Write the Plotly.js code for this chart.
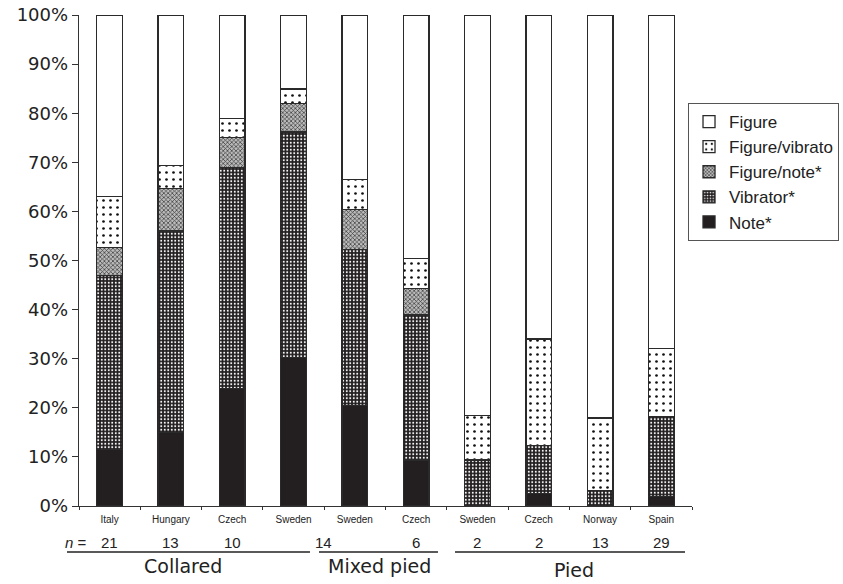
<!DOCTYPE html>
<html>
<head>
<meta charset="utf-8">
<script src="https://cdn.plot.ly/plotly-3.0.1.min.js"></script>
<style>html,body{margin:0;padding:0;background:#fff;}#chart{width:843px;height:584px;}</style>
</head>
<body>
<div id="chart"></div>
<script>
const catKeys = ["c0","c1","c2","c3","c4","c5","c6","c7","c8","c9"];
const catLabels = ["Italy","Hungary","Czech","Sweden","Sweden","Czech","Sweden","Czech","Norway","Spain"];
const nValues = ["21","13","10","","14","6","2","2","13","29"];
const groupNames = ["Collared","Mixed pied","Pied"];
const yTickVals = [0,10,20,30,40,50,60,70,80,90,100];
const yTickText = ["0%","10%","20%","30%","40%","50%","60%","70%","80%","90%","100%"];

const note        = [11.5, 14.9, 24.0, 30.3, 20.4, 9.4, 0, 2.6, 0, 1.9];
const vibrator    = [35.4, 41.1, 45.0, 45.9, 31.9, 29.5, 9.4, 9.7, 3.1, 16.3];
const figureNote  = [5.7, 8.7, 6.0, 5.8, 8.1, 5.4, 0, 0, 0, 0];
const figureVib   = [10.4, 4.6, 3.9, 2.9, 6.1, 6.1, 9.0, 21.7, 14.8, 13.9];
const figure      = [37.0, 30.7, 21.1, 15.1, 33.5, 49.6, 81.6, 66.0, 82.1, 67.9];

const outline = {color: '#2a2a2a', width: 1.3};
function bar(name, y, color, pattern) {
  return {
    type: 'bar', name: name, x: catKeys, y: y, width: 0.42,
    marker: {color: color, line: outline, pattern: pattern},
    hoverinfo: 'name+y'
  };
}
const data = [
  bar('Note*', note, '#231f20', {shape: ''}),
  bar('Vibrator*', vibrator, '#231f20', {shape: '.', fgcolor: '#ffffff', bgcolor: '#231f20', size: 3.5, solidity: 0.25, fillmode: 'replace'}),
  bar('Figure/note*', figureNote, '#ffffff', {shape: 'x', fgcolor: '#333333', bgcolor: '#bbbbbb', size: 3, solidity: 0.4, fillmode: 'replace'}),
  bar('Figure/vibrato', figureVib, '#ffffff', {shape: '.', fgcolor: '#111111', bgcolor: '#ffffff', size: 7, solidity: 0.12, fillmode: 'replace'}),
  bar('Figure', figure, '#ffffff', {shape: ''})
];

const textFont = {family: 'Liberation Sans, Arial', size: 15, color: '#222'};
const annotations = [];
catKeys.forEach((k, i) => {
  if (nValues[i] !== '') {
    annotations.push({x: k, xref: 'x', y: -0.075, yref: 'paper', xanchor: 'center', yanchor: 'middle',
      text: nValues[i], showarrow: false, xshift: i === 4 ? -31 : 0, font: textFont});
  }
});
annotations.push({x: -0.005, xref: 'paper', y: -0.075, yref: 'paper', xanchor: 'center', yanchor: 'middle',
  text: '<i>n</i> =', showarrow: false, font: textFont});
const groupX = [0.1697, 0.491, 0.8075];
const groupY = [-0.122, -0.122, -0.13];
groupNames.forEach((g, i) => {
  annotations.push({x: groupX[i], xref: 'paper', y: groupY[i], yref: 'paper', xanchor: 'center', yanchor: 'middle',
    text: g, showarrow: false, font: {family: 'DejaVu Sans, Verdana', size: 19, color: '#222'}});
});
const lineSpans = [[-0.0196, 0.3768], [0.3915, 0.5856], [0.6134, 0.9886]];
const shapes = lineSpans.map(s => ({type: 'line', xref: 'paper', yref: 'paper', x0: s[0], x1: s[1], y0: -0.0937, y1: -0.0937,
  line: {color: '#222', width: 1.3}}));

const layout = {
  width: 843, height: 584,
  margin: {l: 79, r: 151, t: 15, b: 78, autoexpand: false},
  paper_bgcolor: '#fff', plot_bgcolor: '#fff',
  barmode: 'stack',
  showlegend: true,
  legend: {x: 0.9935, xanchor: 'left', y: 0.8208, yanchor: 'top', traceorder: 'reversed',
    bordercolor: '#555', borderwidth: 1, bgcolor: '#fff', itemwidth: 30,
    font: {family: 'Liberation Sans, Arial', size: 17, color: '#222'}},
  xaxis: {type: 'category', tickmode: 'array', tickvals: catKeys, ticktext: catLabels,
    tickson: 'boundaries', ticks: 'outside', ticklen: 3, tickcolor: '#333', ticklabelstandoff: 4,
    showline: true, linecolor: '#333', linewidth: 1.3, showgrid: false, zeroline: false,
    range: [-0.5, 9.5], fixedrange: true,
    tickfont: {family: 'Liberation Sans, Arial', size: 10, color: '#222'}},
  yaxis: {range: [0, 100], tickmode: 'array', tickvals: yTickVals, ticktext: yTickText,
    ticks: 'outside', ticklen: 6, tickcolor: '#333', showline: true, linecolor: '#333', linewidth: 1.3,
    showgrid: false, zeroline: false, fixedrange: true,
    tickfont: {family: 'DejaVu Sans, Verdana', size: 18, color: '#222'}},
  annotations: annotations,
  shapes: shapes
};
Plotly.newPlot('chart', data, layout, {displayModeBar: false, staticPlot: true});
</script>
</body>
</html>
